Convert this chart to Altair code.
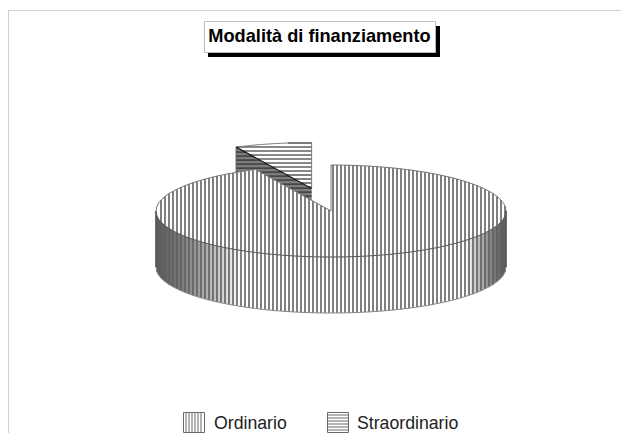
import numpy as np
import pandas as pd
import altair as alt

title_text = "Modalità di finanziamento"
labels = ["Ordinario", "Straordinario"]
shares = [92.9, 7.1]

CX, CY, RX, RY, DEPTH = 331.0, 211.0, 175.0, 46.0, 56.0
EXPLODE = 0.5
STEP = 4
LINE = "#606060"
LW = 1.6
W, H = 613, 425

sx = alt.Scale(domain=[0, W], range=[0, W])
sy = alt.Scale(domain=[0, H], range=[0, H])
X = alt.X("x:Q", scale=sx, axis=None)
Y = alt.Y("y:Q", scale=sy, axis=None)


def area(df, fill="white"):
    return alt.Chart(df).mark_area(fill=fill, stroke=None).encode(x=X, y=Y, y2="y2:Q")


def line(df, color=LINE, w=1.0):
    return alt.Chart(df).mark_line(color=color, strokeWidth=w).encode(x=X, y=Y, order="i:Q")


def vrules(df, color=LINE, w=LW):
    return alt.Chart(df).mark_rule(color=color, strokeWidth=w).encode(x=X, y=Y, y2="y2:Q")


def hrules(df, color=LINE, w=LW):
    return alt.Chart(df).mark_rule(color=color, strokeWidth=w).encode(x=X, x2="x2:Q", y=Y)


def poly(xs, ys):
    return pd.DataFrame({"x": xs, "y": ys, "i": np.arange(len(xs))})


def half(x, cx=CX):
    return RY * np.sqrt(np.clip(1 - ((x - cx) / RX) ** 2, 0, 1))


theta = 2 * np.pi * shares[1] / sum(shares)
sin_t, cos_t = np.sin(theta), np.cos(theta)
edge_x, edge_y = CX - RX * sin_t, CY - RY * cos_t
mid = theta / 2
ox, oy = -EXPLODE * RX * np.sin(mid), -EXPLODE * RY * np.cos(mid)
ax, ay = CX + ox, CY + oy          # apex of the detached slice
lx, ly = ax - RX * sin_t, ay - RY * cos_t

# main slice ---------------------------------------------------------------
xs = np.unique(np.concatenate([np.arange(CX - RX, CX + RX + 0.5, 1.0), [edge_x]]))


def main_top(x):
    t = CY - half(x)
    cut = edge_y + (x - edge_x) * (CY - edge_y) / (CX - edge_x)
    return np.where((x > edge_x) & (x <= CX), cut, t)


top_x = np.concatenate([xs[xs <= CX], [CX], xs[xs > CX]])
top_y = np.concatenate([main_top(xs[xs <= CX]), [CY - RY], main_top(xs[xs > CX])])
main_face = pd.DataFrame({"x": top_x, "y": top_y, "y2": CY + half(top_x)})
wall = pd.DataFrame({"x": xs, "y": CY + half(xs), "y2": CY + half(xs) + DEPTH})

hatch_x = np.arange(CX - RX + 5, CX + RX, STEP)
face_hatch = pd.DataFrame({"x": hatch_x, "y": main_top(hatch_x), "y2": CY + half(hatch_x)})
wall_hatch = pd.DataFrame({"x": hatch_x, "y": CY + half(hatch_x), "y2": CY + half(hatch_x) + DEPTH})

col_x = np.arange(CX - RX, CX + RX + 1, 1.0)
left_light = np.clip((col_x - (CX - RX)) / 85, 0, 1) ** 1.3
right_light = np.clip(((CX + RX) - col_x) / 40, 0, 1) ** 1.3
shade = (60 + 195 * np.minimum(left_light, right_light)).astype(int)
wall_cols = pd.DataFrame({
    "x": col_x,
    "y": CY + half(col_x),
    "y2": CY + half(col_x) + DEPTH,
    "c": [f"rgb({s},{s},{s})" for s in shade],
})


def wall_shade(df):
    return alt.Chart(df).mark_rule(strokeWidth=1.2).encode(
        x=X, y=Y, y2="y2:Q", color=alt.Color("c:N", scale=None, legend=None)
    )


rim_top = poly(xs[xs <= edge_x].tolist() + [CX, CX] + xs[xs >= CX].tolist(),
               (CY - half(xs[xs <= edge_x])).tolist() + [CY, CY - RY] + (CY - half(xs[xs >= CX])).tolist())
rim_low = poly(xs, CY + half(xs))
rim_bot = poly(xs, CY + half(xs) + DEPTH)
rim_left = poly([CX - RX, CX - RX], [CY, CY + DEPTH])
rim_right = poly([CX + RX, CX + RX], [CY, CY + DEPTH])

# detached slice -----------------------------------------------------------
sxs = np.arange(lx, ax + 0.5, 1.0)
sxs = np.append(sxs[sxs < ax], ax)
slope = (ay - ly) / (ax - lx)
s_arc = ay - RY * np.sqrt(np.clip(1 - ((sxs - ax) / RX) ** 2, 0, 1))
s_edge = ly + (sxs - lx) * slope
s_face = pd.DataFrame({"x": sxs, "y": s_arc, "y2": s_edge})
s_wall = pd.DataFrame({"x": sxs, "y": s_edge, "y2": s_edge + DEPTH})

rows = np.arange(np.floor(s_arc.min()) + 1, ay, STEP)
row_left = []
for r in rows:
    if r < ly:
        row_left.append(ax - RX * np.sqrt(max(1 - ((ay - r) / RY) ** 2, 0)))
    else:
        row_left.append(lx + (r - ly) / slope)
s_hatch = pd.DataFrame({"x": row_left, "x2": ax, "y": rows})
wall_rows = np.arange(ly + 1, ay + DEPTH, STEP)
wl = np.where(wall_rows > ly + DEPTH, lx + (wall_rows - ly - DEPTH) / slope, lx)
wr = np.where(wall_rows < ay, lx + (wall_rows - ly) / slope, ax)
s_wall_hatch = pd.DataFrame({"x": wl, "x2": wr, "y": wall_rows})

s_outline = poly(sxs.tolist() + [ax], s_arc.tolist() + [ay])
s_outline_dark = poly([lx, ax], [ly, ay])
s_side_l = poly([lx, lx], [ly, ly + DEPTH])


def shift(df):
    d = df.copy()
    for c in d.columns:
        if c in ("x", "x2", "y", "y2"):
            d[c] = d[c] - 8
    return d


# frame ----------------------------------------------------------------------
frame_h = pd.DataFrame({"x": [8, W + 8], "y": [10.5, 10.5], "i": [0, 1]})
frame_v = pd.DataFrame({"x": [8.5, 8.5], "y": [10, H + 8], "i": [0, 1]})


# title ----------------------------------------------------------------------
def rect(df, fill, stroke=None):
    kw = {"stroke": stroke, "strokeWidth": 1} if stroke else {}
    return alt.Chart(shift(df)).mark_rect(fill=fill, **kw).encode(x=X, x2="x2:Q", y=Y, y2="y2:Q")


shadow_r = pd.DataFrame({"x": [208], "x2": [440], "y": [48], "y2": [57]})
shadow_c = pd.DataFrame({"x": [431], "x2": [440], "y": [26], "y2": [57]})
tbox = pd.DataFrame({"x": [204.5], "x2": [435.5], "y": [21.5], "y2": [52.5]})
tdf = pd.DataFrame({"x": [319.5], "y": [37], "t": [title_text]})

title_layers = [
    rect(shadow_r, "black"),
    rect(shadow_c, "black"),
    rect(tbox, "white", "#bdbdbd"),
    alt.Chart(shift(tdf)).mark_text(font="Liberation Sans", fontWeight="bold", fontSize=18.2, color="black",
                                    align="center", baseline="middle").encode(x=X, y=Y, text="t:N"),
]

# legend -----------------------------------------------------------------------
sw1 = pd.DataFrame({"x": [183.5], "x2": [204.5], "y": [412.5], "y2": [432.5]})
sw2 = pd.DataFrame({"x": [327.5], "x2": [348.5], "y": [412.5], "y2": [432.5]})
sw1_h = pd.DataFrame({"x": np.arange(186, 204, 3), "y": 412.5, "y2": 432.5})
sw2_h = pd.DataFrame({"x": 327.5, "x2": 348.5, "y": np.arange(415, 432, 3)})
leg = pd.DataFrame({"x": [214, 357], "y": [424, 424], "t": labels})

legend_layers = [
    rect(sw1, "white", "#6a6a6a"), vrules(shift(sw1_h), "#6a6a6a", 1.0),
    rect(sw2, "white", "#6a6a6a"), hrules(shift(sw2_h), "#6a6a6a", 1.0),
    alt.Chart(shift(leg)).mark_text(font="Liberation Sans", fontSize=17.7, color="#222222", align="left",
                                    baseline="middle").encode(x=X, y=Y, text="t:N"),
]

chart = alt.layer(
    line(shift(frame_h), "#d0d0d0"),
    line(shift(frame_v), "#d0d0d0"),
    area(shift(s_wall), "#7d7d7d"),
    hrules(shift(s_wall_hatch), "#333333", 1.3),
    area(shift(s_face), "white"),
    hrules(shift(s_hatch)),
    line(shift(s_outline), "#777777"),
    line(shift(s_outline_dark), "#111111", 1.2),
    line(shift(s_side_l), "#555555"),
    area(shift(wall), "white"),
    wall_shade(shift(wall_cols)),
    vrules(shift(wall_hatch)),
    area(shift(main_face), "white"),
    vrules(shift(face_hatch)),
    line(shift(rim_top), "#777777"),
    line(shift(rim_low), "#555555"),
    line(shift(rim_bot), "#888888"),
    line(shift(rim_left), "#555555"),
    line(shift(rim_right), "#555555"),
    *title_layers,
    *legend_layers,
).properties(
    width=W, height=H, padding=0,
    autosize=alt.AutoSizeParams(type="none"),
    background="white",
).configure_view(stroke=None)

chart.save("out.html", embed_options={"renderer": "svg", "actions": False})
